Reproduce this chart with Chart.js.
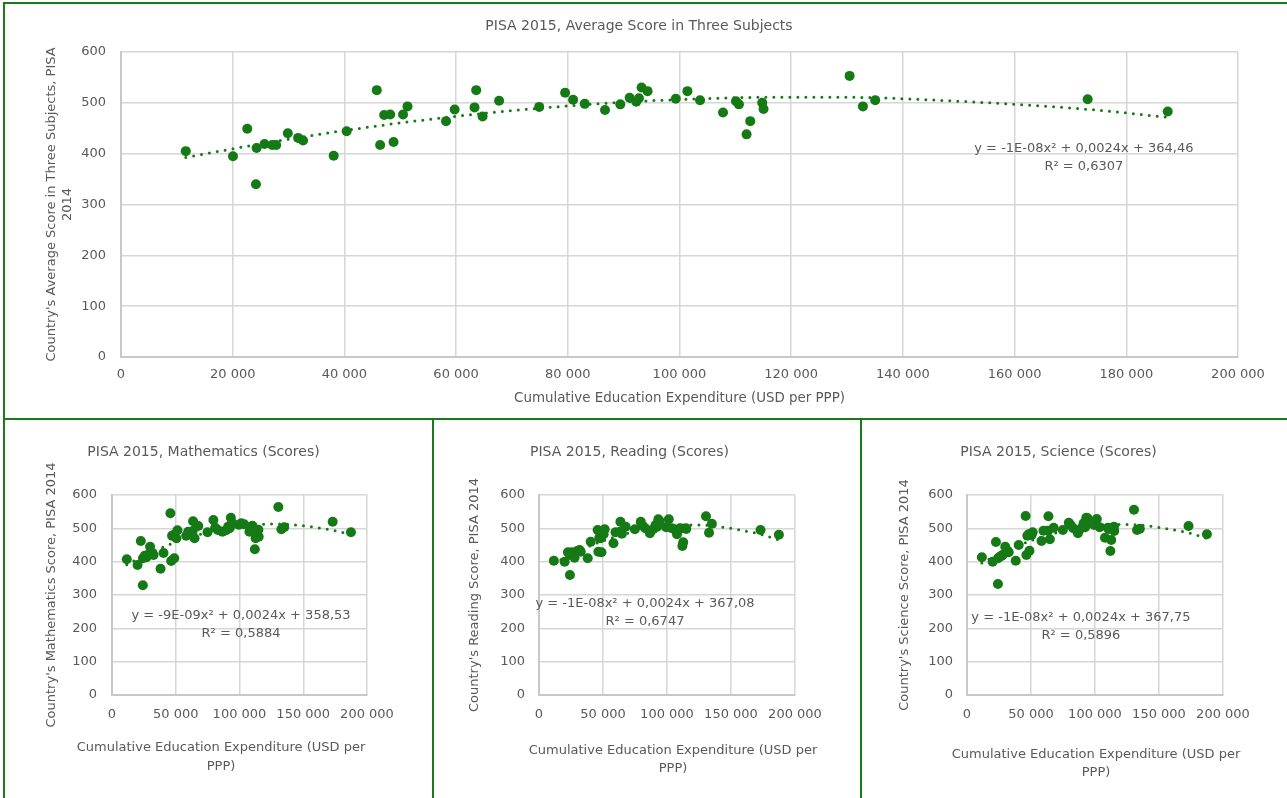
<!DOCTYPE html>
<html>
<head>
<meta charset="utf-8">
<script src="https://cdn.jsdelivr.net/npm/chart.js@4.4.1/dist/chart.umd.min.js"></script>
<style>
  body { margin: 0; background: #fff; width: 1287px; height: 798px; overflow: hidden; position: relative; }
  canvas { position: absolute; }
  .line { position: absolute; background: #1b7a1b; pointer-events: none; }
</style>
</head>
<body>
<canvas id="avg" width="1287" height="420" style="left:0;top:0"></canvas>
<canvas id="math" width="432" height="378" style="left:0;top:420px"></canvas>
<canvas id="reading" width="428" height="378" style="left:432px;top:420px"></canvas>
<canvas id="science" width="427" height="378" style="left:860px;top:420px"></canvas>

<div class="line" style="left:3px;top:2px;width:1290px;height:2px"></div>
<div class="line" style="left:3px;top:2px;width:2px;height:800px"></div>
<div class="line" style="left:3px;top:418px;width:1290px;height:2px"></div>
<div class="line" style="left:432px;top:418px;width:2px;height:400px"></div>
<div class="line" style="left:860px;top:418px;width:2px;height:400px"></div>

<script>
// cumulative education expenditure per country (USD per PPP)
const expenditure = [11600, 20050, 22600, 24160, 24280, 25700, 27070, 27790, 29870, 31710,
  32600, 38080, 40400, 45800, 46400, 47120, 48200, 48800, 50500, 51300,
  58200, 59740, 63300, 63600, 64740, 67700, 74880, 79520, 80950, 83030,
  86660, 89400, 91070, 92260, 92740, 93210, 94280, 99340, 101420, 103680,
  107790, 110110, 110640, 112010, 112670, 114810, 115050, 130460, 132840, 135040,
  173080, 187420];

const avgScore = [405, 395, 449, 340, 411, 419, 417, 417, 440, 431,
  426, 396, 444, 525, 417, 476, 477, 423, 477, 493,
  464, 487, 491, 525, 473, 504, 492, 520, 506, 498,
  486, 497, 510, 502, 509, 530, 523, 508, 523, 505,
  481, 503, 497, 438, 464, 500, 488, 553, 493, 505,
  507, 483];

const mathScore = [407, 390, 462, 329, 410, 418, 413, 420, 445, 425,
  420, 379, 426, 545, 402, 478, 480, 410, 470, 494,
  478, 490, 492, 521, 470, 507, 488, 525, 502, 495,
  490, 494, 505, 500, 508, 532, 516, 511, 515, 512,
  490, 508, 495, 437, 470, 496, 475, 564, 497, 503,
  520, 488];

const readingScore = [403, 400, 428, 360, 420, 428, 425, 412, 432, 435,
  430, 410, 460, 495, 430, 472, 470, 428, 482, 497,
  455, 488, 490, 520, 484, 505, 497, 520, 508, 500,
  485, 498, 510, 505, 512, 527, 522, 503, 527, 500,
  482, 500, 499, 447, 458, 500, 498, 536, 487, 514,
  495, 481];

const scienceScore = [413, 400, 459, 333, 410, 415, 418, 420, 445, 432,
  428, 403, 450, 537, 420, 478, 482, 433, 480, 488,
  462, 493, 493, 536, 467, 502, 495, 517, 510, 500,
  485, 500, 515, 503, 509, 532, 530, 510, 528, 503,
  472, 502, 498, 432, 465, 505, 492, 556, 495, 499,
  507, 482];

const xTitleText = "Cumulative Education Expenditure (USD per PPP)";
const xTitleWrapped = ["Cumulative Education Expenditure (USD per", "PPP)"];

const GREEN = "#157a15";
const GRAY = "#595959";
const GRID = "#d6d6d6";
const FONT = "'DejaVu Sans', Verdana, sans-serif";

Chart.defaults.font.family = FONT;
Chart.defaults.color = GRAY;

function fmt(v) {
  return String(v).replace(/\B(?=(\d{3})+(?!\d))/g, " ");
}

/* least squares, 2nd order polynomial (same as the excel trendline) */
function quadFit(xs, ys) {
  let s = [0, 0, 0, 0, 0], t = [0, 0, 0];
  xs.forEach((x, i) => {
    for (let k = 0; k < 5; k++) s[k] += Math.pow(x, k);
    for (let k = 0; k < 3; k++) t[k] += ys[i] * Math.pow(x, k);
  });
  const m = [[s[0], s[1], s[2], t[0]], [s[1], s[2], s[3], t[1]], [s[2], s[3], s[4], t[2]]];
  for (let c = 0; c < 3; c++) {
    for (let r = c + 1; r < 3; r++) {
      const f = m[r][c] / m[c][c];
      for (let k = c; k < 4; k++) m[r][k] -= f * m[c][k];
    }
  }
  const b = [0, 0, 0];
  for (let r = 2; r >= 0; r--) {
    let v = m[r][3];
    for (let k = r + 1; k < 3; k++) v -= m[r][k] * b[k];
    b[r] = v / m[r][r];
  }
  return b;
}

/* equacao da tendencia + titulo do eixo x quebrado em duas linhas */
const extraText = {
  id: "extraText",
  afterDatasetsDraw(chart, args, opts) {
    const { ctx, scales } = chart;
    ctx.save();
    ctx.fillStyle = GRAY;
    ctx.textAlign = "center";
    ctx.textBaseline = "middle";
    const eq = opts.eq;
    const px = scales.x.getPixelForValue(eq.x);
    const py = scales.y.getPixelForValue(eq.y);
    ctx.font = "13px " + FONT;
    eq.lines.forEach((t, i) => ctx.fillText(t, px, py + i * 18));
    const cap = opts.caption;
    if (cap) {
      ctx.font = "13px " + FONT;
      cap.lines.forEach((t, i) => ctx.fillText(t, cap.x, cap.y + i * cap.lh));
    }
    ctx.restore();
  }
};

function drawChart(id, o) {
  const b = quadFit(expenditure, o.scores);
  const trend = [...expenditure].sort((a, c) => a - c)
    .map(x => ({ x: x, y: b[0] + b[1] * x + b[2] * x * x }));
  const pts = expenditure.map((x, i) => ({ x: x, y: o.scores[i] }));
  const tickFont = { family: FONT, size: 13 };

  new Chart(document.getElementById(id), {
    type: "scatter",
    data: {
      datasets: [
        {
          type: "line", data: trend, borderColor: GREEN, borderWidth: 3,
          borderDash: [0, 8], borderCapStyle: "round", pointRadius: 0,
          fill: false, cubicInterpolationMode: "monotone"
        },
        {
          data: pts, backgroundColor: GREEN, borderColor: GREEN,
          pointRadius: 5, pointHoverRadius: 5, borderWidth: 0
        }
      ]
    },
    options: {
      responsive: false,
      animation: false,
      layout: { padding: o.pad },
      plugins: {
        legend: { display: false },
        tooltip: { enabled: false },
        title: {
          display: true, text: o.title, color: GRAY,
          font: { family: FONT, size: 14, weight: "normal" }, padding: o.titlePad
        },
        extraText: { eq: o.eq, caption: o.caption }
      },
      scales: {
        x: {
          type: "linear", min: 0, max: 200000,
          ticks: { stepSize: o.xStep, color: GRAY, font: tickFont, padding: o.xTickPad, callback: fmt },
          grid: { color: GRID, lineWidth: 1.5, drawTicks: false },
          border: { color: "#c8c8c8", width: 2 },
          title: {
            display: !!o.xTitle, text: o.xTitle || "", color: GRAY,
            font: { family: FONT, size: 13.4, lineHeight: 1.3 }, padding: { top: 0, bottom: o.xTitlePad || 0 }
          },
          afterFit: s => { s.height = o.xH; }
        },
        y: {
          min: 0, max: 600,
          ticks: { stepSize: 100, color: GRAY, font: tickFont, padding: o.yTickPad },
          grid: { color: GRID, lineWidth: 1.5, drawTicks: false },
          border: { color: "#c8c8c8", width: 2 },
          title: {
            display: true, text: o.yTitle, color: GRAY,
            font: { family: FONT, size: 13, lineHeight: 1.2 }, padding: { top: o.yTitlePad, bottom: 0 }
          },
          afterFit: s => { s.width = o.yW; }
        }
      }
    },
    plugins: [extraText]
  });
}

/* GRAFICO PRINCIPAL */
drawChart("avg", {
  scores: avgScore,
  title: "PISA 2015, Average Score in Three Subjects",
  xTitle: xTitleText,
  yTitle: ["Country's Average Score in Three Subjects, PISA", "2014"],
  pad: { left: 40, right: 49, top: 0, bottom: 3 },
  titlePad: { top: 17.6, bottom: 17.6 },
  yW: 81, yTitlePad: 4.2, yTickPad: 15,
  xH: 60, xTickPad: 10.2, xTitlePad: 9.6, xStep: 20000,
  eq: { x: 172400, y: 409, lines: ["y = -1E-08x² + 0,0024x + 364,46", "R² = 0,6307"] }
});

/* TRES PEQUENOS */
drawChart("math", {
  scores: mathScore,
  title: "PISA 2015, Mathematics (Scores)",
  caption: { lines: xTitleWrapped, x: 221, y: 328, lh: 18.4 },
  yTitle: "Country's Mathematics Score, PISA 2014",
  pad: { left: 40, right: 65, top: 0, bottom: 3 },
  titlePad: { top: 23.6, bottom: 34.6 },
  yW: 72, yTitlePad: 4.2, yTickPad: 15,
  xH: 100, xTickPad: 12.2, xStep: 50000,
  eq: { x: 101200, y: 237, lines: ["y = -9E-09x² + 0,0024x + 358,53", "R² = 0,5884"] }
});

drawChart("reading", {
  scores: readingScore,
  title: "PISA 2015, Reading (Scores)",
  caption: { lines: xTitleWrapped, x: 241, y: 331, lh: 17.5 },
  yTitle: "Country's Reading Score, PISA 2014",
  pad: { left: 32, right: 65, top: 0, bottom: 3 },
  titlePad: { top: 23.6, bottom: 34.6 },
  yW: 75, yTitlePad: 3.2, yTickPad: 14,
  xH: 100, xTickPad: 12.2, xStep: 50000,
  eq: { x: 82800, y: 273, lines: ["y = -1E-08x² + 0,0024x + 367,08", "R² = 0,6747"] }
});

drawChart("science", {
  scores: scienceScore,
  title: "PISA 2015, Science (Scores)",
  caption: { lines: xTitleWrapped, x: 236, y: 335, lh: 17.5 },
  yTitle: "Country's Science Score, PISA 2014",
  pad: { left: 34, right: 64, top: 0, bottom: 3 },
  titlePad: { top: 23.6, bottom: 34.6 },
  yW: 73, yTitlePad: 3.2, yTickPad: 14,
  xH: 100, xTickPad: 12.2, xStep: 50000,
  eq: { x: 89000, y: 231, lines: ["y = -1E-08x² + 0,0024x + 367,75", "R² = 0,5896"] }
});
</script>
</body>
</html>
